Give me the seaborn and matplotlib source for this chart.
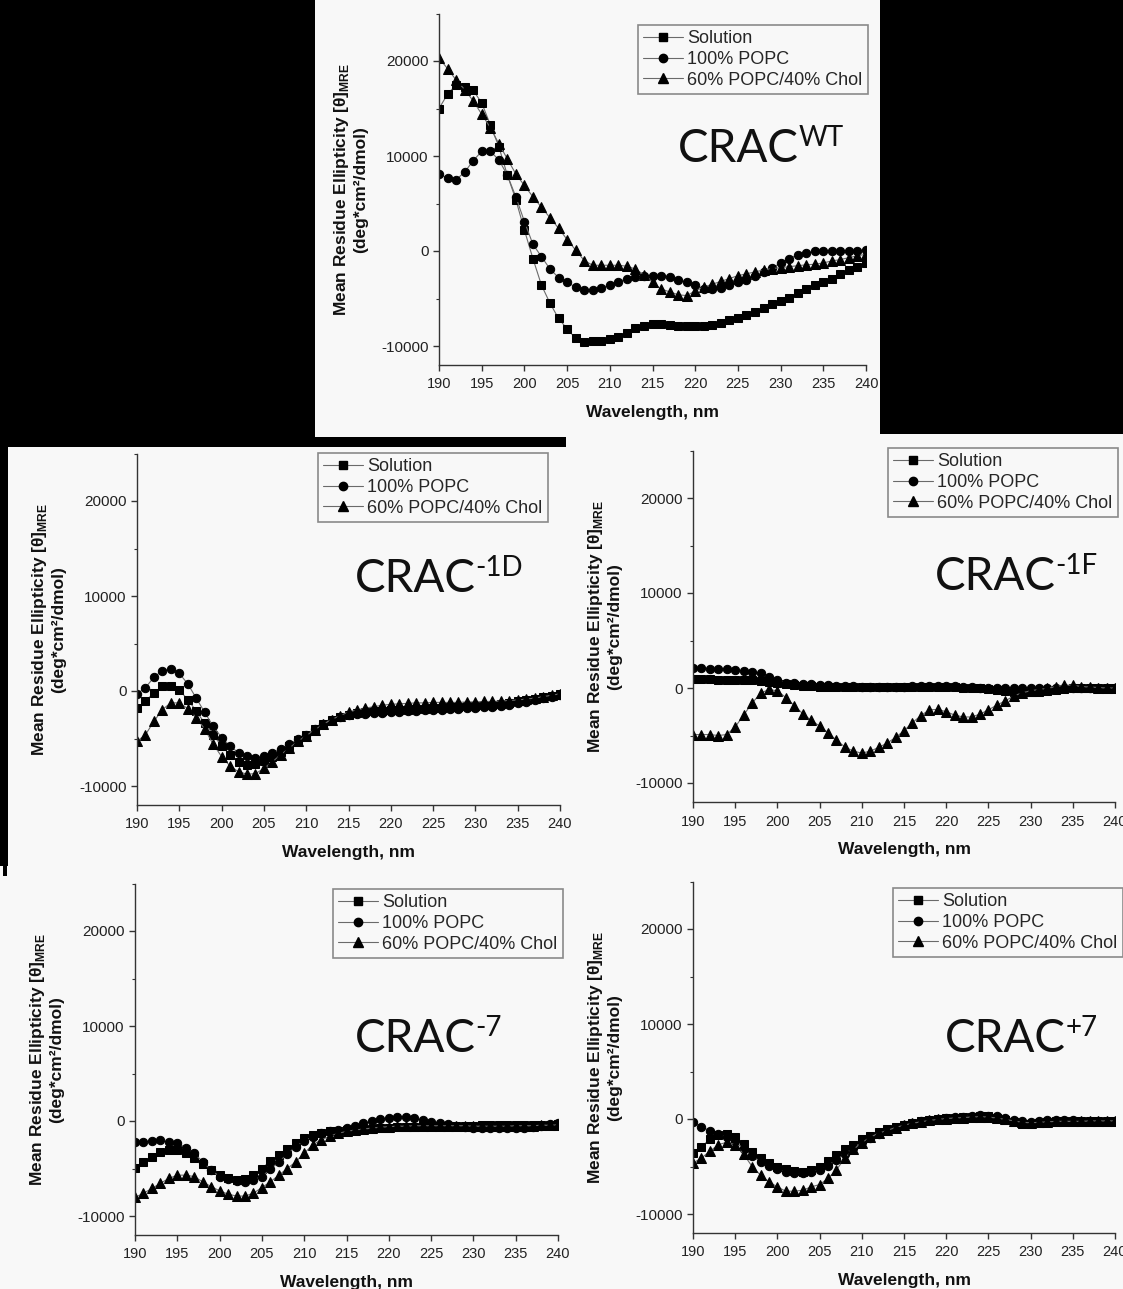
import numpy as np
import pandas as pd
import matplotlib
matplotlib.use("Agg")
import matplotlib.pyplot as plt
from matplotlib.lines import Line2D
from matplotlib.patches import Rectangle
from matplotlib.ticker import MultipleLocator
import seaborn as sns

sns.set_theme(style="ticks")
plt.rcParams['font.family'] = ['Liberation Sans', 'DejaVu Sans']
plt.rcParams['mathtext.fontset'] = 'custom'
plt.rcParams['mathtext.rm'] = 'Liberation Sans:bold'
plt.rcParams['axes.unicode_minus'] = False

# ---------------------------------------------------------------- data
WAVELENGTH = np.arange(190, 241)          # nm, 1 nm steps
SERIES = ["Solution", "100% POPC", "60% POPC/40% Chol"]

# CRAC WT
wt_solution = [15000, 16500, 17500, 17300, 16900, 15600, 13300, 11000, 8000, 5400,
               2200, -800, -3600, -5500, -7100, -8200, -9200, -9550, -9500, -9450,
               -9300, -9000, -8600, -8150, -7900, -7700, -7700, -7750, -7850, -7850,
               -7850, -7850, -7750, -7600, -7300, -7000, -6750, -6400, -6000, -5600,
               -5300, -4900, -4450, -4000, -3600, -3300, -2900, -2450, -2000, -1650, -1300]
wt_popc = [8100, 7700, 7500, 8300, 9500, 10500, 10500, 9600, 8000, 5700,
           3100, 700, -600, -1900, -2800, -3300, -3800, -4100, -4100, -3850,
           -3600, -3250, -2900, -2700, -2600, -2600, -2600, -2700, -3000, -3300,
           -3600, -3950, -4000, -3850, -3600, -3300, -3050, -2600, -2200, -1750,
           -1300, -800, -400, -200, -50, 0, 0, 0, 0, 50, 100]
wt_chol = [20300, 19200, 18000, 17000, 15800, 14400, 13000, 11300, 9700, 8100,
           6900, 5700, 4600, 3500, 2400, 1200, 100, -1000, -1500, -1500,
           -1500, -1500, -1600, -1900, -2500, -3300, -4000, -4300, -4600, -4700,
           -4200, -3800, -3500, -3200, -2900, -2600, -2400, -2200, -2000, -1850,
           -1750, -1650, -1550, -1450, -1400, -1250, -1050, -900, -700, -500, -350]

# CRAC -1D
d1_solution = [-1800, -1050, -200, 500, 550, 100, -900, -2100, -3400, -4600,
               -5800, -6700, -7500, -7800, -7700, -7400, -6900, -6400, -5800, -5200,
               -4600, -4000, -3500, -3050, -2700, -2500, -2300, -2200, -2150, -2100,
               -2050, -2000, -1950, -1900, -1850, -1800, -1750, -1700, -1650, -1600,
               -1550, -1500, -1450, -1350, -1250, -1100, -950, -800, -650, -500, -350]
d1_popc = [-300, 350, 1450, 2150, 2300, 1850, 750, -750, -2250, -3700,
           -4900, -5800, -6500, -6850, -7000, -6850, -6500, -6100, -5600, -5100,
           -4600, -4000, -3500, -3050, -2750, -2550, -2450, -2400, -2350, -2300,
           -2250, -2200, -2150, -2100, -2050, -2000, -1950, -1900, -1850, -1800,
           -1750, -1700, -1650, -1550, -1450, -1300, -1150, -950, -750, -600, -450]
d1_chol = [-5300, -4600, -3200, -1950, -1250, -1250, -1850, -2800, -4000, -5600,
           -6900, -7900, -8500, -8750, -8700, -8150, -7450, -6700, -6000, -5300,
           -4700, -4100, -3500, -3000, -2600, -2200, -2000, -1800, -1650, -1500,
           -1400, -1350, -1300, -1250, -1250, -1200, -1200, -1200, -1200, -1150,
           -1150, -1100, -1100, -1050, -1000, -950, -850, -750, -600, -450, -300]

# CRAC -1F
f1_solution = [900, 900, 900, 880, 870, 850, 820, 800, 750, 650,
               500, 400, 300, 250, 200, 150, 100, 100, 100, 100,
               100, 100, 100, 100, 100, 100, 150, 150, 150, 150,
               150, 100, 50, 0, -50, -100, -200, -300, -400, -450,
               -450, -400, -300, -200, -100, -50, 0, 0, 0, 0, 0]
f1_popc = [2100, 2100, 2050, 2000, 1950, 1850, 1800, 1700, 1550, 1200,
           850, 550, 500, 420, 400, 350, 300, 250, 200, 200,
           150, 150, 150, 150, 150, 150, 200, 200, 200, 200,
           200, 200, 150, 100, 50, 0, 0, 0, -50, -50,
           -50, -50, 0, 0, 0, 0, 0, 0, 0, 0, 0]
f1_chol = [-4900, -4900, -4900, -5000, -4900, -4100, -2850, -1600, -550, -150,
           -300, -1000, -1850, -2700, -3400, -4000, -4700, -5500, -6200, -6650,
           -6850, -6650, -6250, -5800, -5200, -4500, -3650, -2900, -2300, -2250,
           -2500, -2850, -3050, -3050, -2750, -2300, -1800, -1350, -850, -500,
           -300, -150, -50, 150, 300, 300, 150, 100, 50, 0, 0]

# CRAC -7
m7_solution = [-4900, -4300, -3750, -3300, -3100, -3100, -3400, -3900, -4500, -5150,
               -5700, -6000, -6200, -6150, -5700, -5000, -4200, -3600, -2900, -2350,
               -1800, -1500, -1300, -1100, -1000, -950, -900, -850, -800, -750,
               -700, -650, -600, -600, -550, -550, -500, -500, -500, -500,
               -500, -450, -450, -450, -450, -450, -400, -400, -400, -400, -350]
m7_popc = [-2250, -2200, -2100, -2050, -2200, -2350, -2800, -3400, -4300, -5150,
           -5850, -6150, -6300, -6400, -6200, -5850, -5100, -4300, -3500, -2700,
           -2100, -1650, -1300, -1100, -950, -750, -500, -250, 0, 200,
           350, 450, 400, 300, 100, -150, -250, -350, -500, -600,
           -700, -750, -750, -750, -750, -750, -700, -600, -500, -350, -250]
m7_chol = [-8050, -7600, -7100, -6550, -6050, -5700, -5700, -5850, -6400, -6900,
           -7350, -7700, -7900, -7900, -7600, -7000, -6400, -5700, -5000, -4300,
           -3400, -2500, -2000, -1600, -1300, -1100, -950, -850, -750, -650,
           -600, -550, -550, -500, -500, -500, -500, -500, -500, -500,
           -550, -550, -550, -550, -550, -500, -500, -500, -450, -450, -400]

# CRAC +7
p7_solution = [-3600, -2900, -2150, -1700, -1550, -1900, -2600, -3450, -4100, -4650,
               -5000, -5250, -5450, -5550, -5350, -5000, -4450, -3800, -3200, -2700,
               -2150, -1750, -1400, -1100, -850, -600, -400, -250, -100, 0,
               100, 150, 200, 250, 300, 300, 100, -100, -300, -500,
               -500, -400, -300, -250, -250, -250, -250, -250, -250, -250, -200]
p7_popc = [-350, -800, -1250, -1600, -1900, -2300, -3200, -3900, -4500, -4900,
           -5250, -5600, -5700, -5700, -5550, -5350, -4900, -4300, -3700, -3050,
           -2450, -2000, -1550, -1200, -900, -650, -450, -250, -100, 0,
           100, 200, 250, 350, 400, 350, 300, 100, -100, -250,
           -300, -200, -100, -100, -150, -150, -200, -200, -200, -200, -200]
p7_chol = [-4650, -4100, -3400, -2700, -2450, -2700, -3700, -5000, -5900, -6600,
           -7150, -7600, -7600, -7500, -7150, -6900, -6250, -5350, -4100, -3200,
           -2500, -1900, -1500, -1200, -900, -650, -450, -300, -150, -50,
           50, 100, 150, 200, 250, 200, 100, -50, -200, -350,
           -400, -350, -300, -250, -250, -250, -250, -200, -200, -200, -200]

PANEL_SUPERSCRIPTS = ["WT", "-1D", "-1F", "-7", "+7"]
PANEL_DATA = [
    (wt_solution, wt_popc, wt_chol),
    (d1_solution, d1_popc, d1_chol),
    (f1_solution, f1_popc, f1_chol),
    (m7_solution, m7_popc, m7_chol),
    (p7_solution, p7_popc, p7_chol),
]

# ---------------------------------------------------------------- layout (pixels, origin top-left)
W, H = 1123, 1289
BG = "#f8f8f8"
LINE_GRAY = "#6a6a6a"
MARKERS = {"Solution": "s", "100% POPC": "o", "60% POPC/40% Chol": "^"}
MSIZE = {"Solution": 6.0, "100% POPC": 6.0, "60% POPC/40% Chol": 6.8}

# white panel areas on a black sheet
PANEL_AREAS = [(315, 0, 880, 437), (566, 434, 1123, 866),
               (8, 447, 566, 866), (0, 866, 1123, 1289)]

# axes box (left, top, right, bottom), legend top-right corner, title baseline start
AXES_BOXES = [(439, 13.5, 866, 365), (137, 453.5, 560, 805), (693, 450.5, 1115, 802),
              (135, 883.5, 558, 1235), (693, 881.5, 1115, 1233)]
LEGEND_CORNERS = [(868, 25), (548, 453), (1118, 448), (563, 889), (1123, 888)]
TITLE_POS = [(678, 162), (355, 592), (935, 590), (355, 1052), (945, 1052)]

fig = plt.figure(figsize=(W / 100, H / 100), dpi=100, facecolor="black")

for x0, y0, x1, y1 in PANEL_AREAS:
    fig.patches.append(Rectangle((x0 / W, 1 - y1 / H), (x1 - x0) / W, (y1 - y0) / H,
                                 transform=fig.transFigure, facecolor=BG,
                                 edgecolor="none", zorder=-5))
fig.patches.append(Rectangle((3 / W, 1 - 876 / H), 4 / W, 12 / H, transform=fig.transFigure,
                             facecolor="black", edgecolor="none", zorder=-4))

handles = [Line2D([], [], color=LINE_GRAY, lw=0.8, marker=MARKERS[s],
                  markerfacecolor="black", markeredgecolor="black",
                  markersize=MSIZE[s])
           for s in SERIES]

for i, (sol, popc, chol) in enumerate(PANEL_DATA):
    l, t, r, b = AXES_BOXES[i]
    ax = fig.add_axes([l / W, 1 - b / H, (r - l) / W, (b - t) / H])
    ax.set_facecolor("none")

    df = pd.DataFrame({
        "wl": np.tile(WAVELENGTH, 3),
        "val": np.concatenate([sol, popc, chol]),
        "series": np.repeat(SERIES, len(WAVELENGTH)),
    })
    for s in SERIES:
        sub = df[df["series"] == s]
        sns.lineplot(data=sub, x="wl", y="val", ax=ax, estimator=None, legend=False,
                     color=LINE_GRAY, linewidth=0.8, marker=MARKERS[s],
                     markersize=MSIZE[s],
                     markerfacecolor="black", markeredgecolor="black")

    ax.set_xlim(190, 240)
    ax.set_ylim(-12000, 25000)
    ax.set_xticks(np.arange(190, 241, 5))
    ax.set_yticks([-10000, 0, 10000, 20000])
    ax.yaxis.set_minor_locator(MultipleLocator(5000))
    ax.tick_params(axis="both", which="major", direction="out", length=4, width=1,
                   color="#333333", pad=3.5)
    ax.tick_params(axis="x", which="major", pad=5)
    ax.tick_params(axis="y", which="minor", direction="out", length=2.5, width=0.8,
                   color="#333333")
    ax.tick_params(axis="x", labelsize=10.5, labelcolor="#222222")
    ax.tick_params(axis="y", labelsize=11, labelcolor="#222222")
    sns.despine(ax=ax)
    for sp in ("left", "bottom"):
        ax.spines[sp].set_color("#333333")
        ax.spines[sp].set_linewidth(1.0)

    ax.set_xlabel("Wavelength, nm", fontsize=12.5, fontweight="bold", labelpad=9.5,
                  color="#111111")
    ax.set_ylabel("Mean Residue Ellipticity [θ]$_{\\mathrm{MRE}}$\n(deg*cm²/dmol)",
                  fontsize=12.5, fontweight="bold", labelpad=9, color="#111111",
                  linespacing=1.25)

    lx, ly = LEGEND_CORNERS[i]
    leg = ax.legend(handles, SERIES, loc="upper right",
                    bbox_to_anchor=(lx / W, 1 - ly / H), bbox_transform=fig.transFigure,
                    borderaxespad=0, frameon=True, fancybox=False, edgecolor="#8a8a8a",
                    facecolor=BG, framealpha=1, fontsize=13, handlelength=2.2,
                    handletextpad=0.25, labelspacing=0.2, borderpad=0.3)
    leg.get_frame().set_linewidth(1.2)

    tx, ty = TITLE_POS[i]
    main = fig.text(tx / W, 1 - ty / H, "CRAC", fontsize=33, family=["Lato", "DejaVu Sans"],
                    ha="left", va="baseline", color="#111111")
    ax.annotate(PANEL_SUPERSCRIPTS[i], xy=(1, 1), xycoords=main, xytext=(-0.5, 2.5),
                textcoords="offset points", ha="left", va="top", fontsize=20,
                family=["Lato", "DejaVu Sans"], color="#111111", annotation_clip=False)

fig.savefig("out.png", dpi=100, facecolor="black")
